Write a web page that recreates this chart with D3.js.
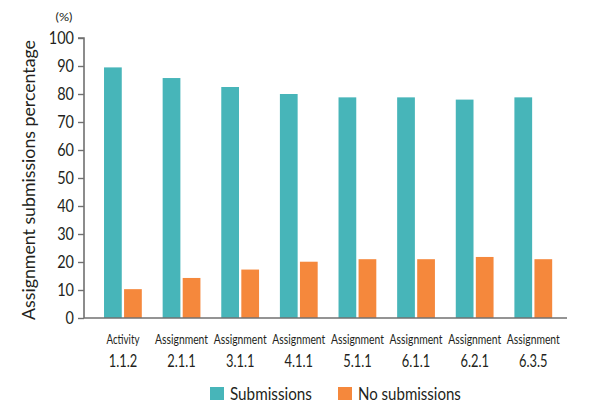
<!DOCTYPE html>
<html><head><meta charset="utf-8">
<script src="https://cdn.jsdelivr.net/npm/d3@7"></script>
<style>
body{margin:0;background:#fff;}
svg text{font-family:Lato,"Open Sans",sans-serif;fill:#231f20;}
</style></head>
<body>
<svg id="chart" width="600" height="413"></svg>
<script>
const categoriesLine1 = ["Activity","Assignment","Assignment","Assignment","Assignment","Assignment","Assignment","Assignment"];
const categoriesLine2 = ["1.1.2","2.1.1","3.1.1","4.1.1","5.1.1","6.1.1","6.2.1","6.3.5"];
const seriesNames = ["Submissions","No submissions"];
const submissions = [89.5,85.7,82.5,80.0,78.8,78.8,78.0,78.8];
const noSubmissions = [10.3,14.3,17.3,20.1,21.0,21.0,21.8,21.0];
const yTicks = [0,10,20,30,40,50,60,70,80,90,100];
const colors = ["#47b5b9","#f5883c"];

const svg = d3.select("#chart");
const axisColor = "#707070";
const y = d3.scaleLinear().domain([0,100]).range([318,38]);
const x0 = d3.scaleBand().domain(categoriesLine2).range([93.6,562.6]).padding(0);
const x1 = d3.scaleBand().domain(seriesNames).range([0,x0.bandwidth()]).paddingInner(0.115).paddingOuter(0.52);

const data = categoriesLine2.map((c,i)=>({cat:c, vals:[submissions[i],noSubmissions[i]]}));

// condensed text helper: draws text at (x,y), horizontally scaled to a target width
function condText(parent, x, yy, str, size, width, anchor, rotate){
  const grp = parent.append("g");
  const t = grp.append("text").attr("font-size",size).attr("text-anchor",anchor||"start").text(str);
  const nat = t.node().getComputedTextLength();
  const s = width/nat;
  grp.attr("transform",`translate(${x},${yy})${rotate?` rotate(${rotate})`:""} scale(${s},1)`);
  return grp;
}

const g = svg.append("g");
g.selectAll("g.grp").data(data).join("g").attr("class","grp")
  .attr("transform",d=>`translate(${x0(d.cat)},0)`)
  .selectAll("rect").data(d=>d.vals.map((v,j)=>({s:seriesNames[j],v,j})))
  .join("rect")
  .attr("x",d=>x1(d.s)).attr("width",x1.bandwidth())
  .attr("y",d=>y(d.v)).attr("height",d=>y(0)-y(d.v))
  .attr("fill",d=>colors[d.j]);

// y axis
const yAxis = d3.axisLeft(y).tickValues(yTicks).tickSize(6).tickFormat("");
const ya = svg.append("g").attr("transform","translate(84,0)").call(yAxis);
ya.select(".domain").attr("stroke",axisColor).attr("stroke-width",1.6).attr("d","M-6,38H0V318");
ya.selectAll(".tick line").attr("stroke",axisColor).attr("stroke-width",1.4);
const ytl = svg.append("g");
yTicks.forEach(v=>{
  condText(ytl, 74, y(v)+6, String(v), 17, String(v).length*8.4, "end");
});

// x axis line
svg.append("line").attr("x1",84).attr("x2",567).attr("y1",318).attr("y2",318)
  .attr("stroke",axisColor).attr("stroke-width",1.6);

// x labels
const xl = svg.append("g");
categoriesLine2.forEach((c,i)=>{
  const cx = x0(c)+x0.bandwidth()/2;
  condText(xl, cx, 344, categoriesLine1[i], 13.5, categoriesLine1[i]==="Activity"?33:53, "middle");
  condText(xl, cx, 367, c, 16.5, 28.5, "middle");
});

// y title
condText(svg, 35, 180, "Assignment submissions percentage", 18, 280, "middle", -90);
condText(svg, 64, 21, "(%)", 11.5, 17, "middle");

// legend
const legend = svg.append("g");
const legX = [210,338];
const legW = [82,103];
seriesNames.forEach((s,i)=>{
  legend.append("rect").attr("x",legX[i]).attr("y",387).attr("width",14).attr("height",13).attr("fill",colors[i]);
  condText(legend, legX[i]+20, 400, s, 16.5, legW[i], "start");
});
</script>
</body></html>
